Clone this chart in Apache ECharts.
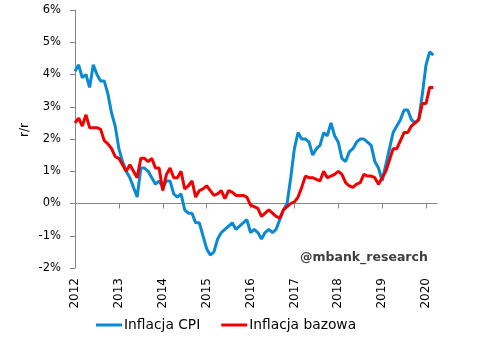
<!DOCTYPE html>
<html>
<head>
<meta charset="utf-8">
<script src="https://cdn.jsdelivr.net/npm/echarts@6/dist/echarts.min.js"></script>
<style>
  html, body { margin: 0; padding: 0; background: #fff; }
  #main { width: 486px; height: 352px; }
</style>
</head>
<body>
<div id="main"></div>
<script>
// lata na osi X (etykiety co 12 miesięcy)
const years = ["2012", "2013", "2014", "2015", "2016", "2017", "2018", "2019", "2020"];

// inflacja CPI r/r, styczeń 2012 - marzec 2020
const cpi = [
  4.1, 4.3, 3.9, 4.0, 3.6, 4.3, 4.0, 3.8, 3.8, 3.4, 2.8, 2.4,
  1.7, 1.3, 1.0, 0.8, 0.5, 0.2, 1.1, 1.1, 1.0, 0.8, 0.6, 0.7,
  0.5, 0.7, 0.7, 0.3, 0.2, 0.3, -0.2, -0.3, -0.3, -0.6, -0.6, -1.0,
  -1.4, -1.6, -1.5, -1.1, -0.9, -0.8, -0.7, -0.6, -0.8, -0.7, -0.6, -0.5,
  -0.9, -0.8, -0.9, -1.1, -0.9, -0.8, -0.9, -0.8, -0.5, -0.2, 0.0, 0.8,
  1.7, 2.2, 2.0, 2.0, 1.9, 1.5, 1.7, 1.8, 2.2, 2.1, 2.5, 2.1,
  1.9, 1.4, 1.3, 1.6, 1.7, 1.9, 2.0, 2.0, 1.9, 1.8, 1.3, 1.1,
  0.7, 1.2, 1.7, 2.2, 2.4, 2.6, 2.9, 2.9, 2.6, 2.5, 2.6, 3.4,
  4.3, 4.7, 4.6
];

// inflacja bazowa r/r
const bazowa = [
  2.5, 2.65, 2.4, 2.75, 2.35, 2.35, 2.35, 2.3, 1.95, 1.85, 1.7, 1.45,
  1.4, 1.2, 1.0, 1.2, 1.0, 0.8, 1.4, 1.4, 1.3, 1.4, 1.1, 1.1,
  0.4, 0.9, 1.1, 0.8, 0.8, 1.0, 0.45, 0.55, 0.7, 0.2, 0.4, 0.45,
  0.55, 0.4, 0.25, 0.3, 0.4, 0.15, 0.4, 0.35, 0.25, 0.25, 0.25, 0.2,
  -0.05, -0.1, -0.15, -0.4, -0.3, -0.2, -0.3, -0.4, -0.45, -0.2, -0.1, 0.0,
  0.05, 0.2, 0.5, 0.85, 0.8, 0.8, 0.75, 0.7, 1.0, 0.8, 0.85, 0.9,
  1.0, 0.9, 0.65, 0.55, 0.5, 0.6, 0.65, 0.9, 0.85, 0.85, 0.8, 0.6,
  0.8, 1.0, 1.35, 1.7, 1.7, 1.95, 2.2, 2.2, 2.4, 2.5, 2.6, 3.1,
  3.1, 3.6, 3.6
];

const monthsShown = 100; // oś kończy się na kwietniu 2020
const months = [];
years.forEach(y => {
  for (let m = 1; m <= 12; m++) months.push(y + "-" + (m < 10 ? "0" + m : m));
});
months.length = monthsShown;

const font = "DejaVu Sans";
const axisGray = "#868686";
const everyYear = (idx) => idx % 12 === 0;

const chart = echarts.init(document.getElementById("main"));
chart.setOption({
  animation: false,
  textStyle: { fontFamily: font },
  grid: { left: 75, right: 49, top: 10, bottom: 84 },
  xAxis: [
    {
      type: "category",
      data: months,
      boundaryGap: false,
      position: "bottom",
      axisLine: { show: false, onZero: false },
      axisTick: { show: false },
      axisLabel: {
        interval: everyYear,
        rotate: 90,
        margin: 10,
        fontSize: 12,
        color: "#000",
        fontFamily: font,
        formatter: (v) => v.slice(0, 4)
      }
    },
    {
      type: "category",
      data: months,
      boundaryGap: false,
      position: "bottom",
      axisLine: { show: true, onZero: true, lineStyle: { color: axisGray, width: 1 } },
      axisTick: { show: true, interval: everyYear, length: 5, lineStyle: { color: axisGray } },
      axisLabel: { show: false }
    }
  ],
  yAxis: {
    type: "value",
    min: -2,
    max: 6,
    interval: 1,
    axisLine: { show: true, lineStyle: { color: axisGray, width: 1 } },
    axisTick: { show: true, length: 5, lineStyle: { color: axisGray } },
    splitLine: { show: false },
    axisLabel: { formatter: "{value}%", margin: 14, fontSize: 11.5, color: "#000", fontFamily: font }
  },
  legend: {
    left: 96,
    top: 318,
    padding: 0,
    icon: "rect",
    itemWidth: 26,
    itemHeight: 3,
    itemGap: 21,
    textStyle: { fontSize: 13.8, color: "#000", fontFamily: font, padding: [0, 0, 0, -3] },
    data: ["Inflacja CPI", "Inflacja bazowa"]
  },
  graphic: [
    {
      type: "text",
      x: 25,
      y: 130,
      rotation: Math.PI / 2,
      style: { text: "r/r", fontSize: 12, fontFamily: font, fill: "#000", align: "center", verticalAlign: "middle" }
    },
    {
      type: "text",
      x: 300,
      y: 258,
      style: { text: "@mbank_research", fontSize: 12.5, fontWeight: "bold", fontFamily: font, fill: "#404040", verticalAlign: "middle" }
    }
  ],
  series: [
    {
      name: "Inflacja CPI",
      type: "line",
      data: cpi,
      symbol: "none",
      color: "#0A8AD2",
      lineStyle: { width: 3 }
    },
    {
      name: "Inflacja bazowa",
      type: "line",
      data: bazowa,
      symbol: "none",
      color: "#F20000",
      lineStyle: { width: 3 }
    }
  ]
});
</script>
</body>
</html>
